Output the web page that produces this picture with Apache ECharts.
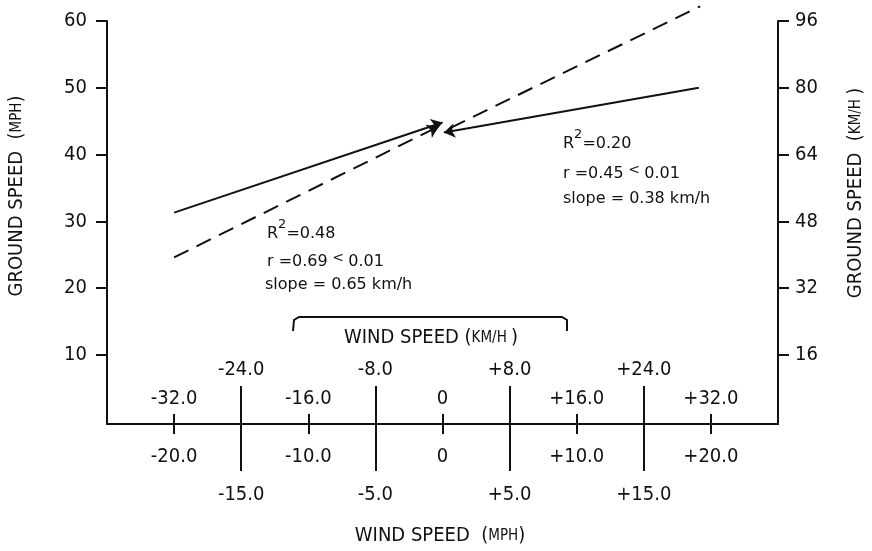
<!DOCTYPE html>
<html><head><meta charset="utf-8">
<script src="https://cdn.jsdelivr.net/npm/echarts@6/dist/echarts.min.js"></script>
<style>html,body{margin:0;padding:0;background:#fff}#c{width:872px;height:551px}</style>
</head><body><div id="c"></div>
<script>
// --- data ---
const mphMajor = [-20, -10, 0, 10, 20];
const mphMinor = [-15, -5, 5, 15];
const mphMajorLabels = ['-20.0', '-10.0', '0', '+10.0', '+20.0'];
const mphMinorLabels = ['-15.0', '-5.0', '+5.0', '+15.0'];
const kmhMajorLabels = ['-32.0', '-16.0', '0', '+16.0', '+32.0'];
const kmhMinorLabels = ['-24.0', '-8.0', '+8.0', '+24.0'];
const leftTicks = [10, 20, 30, 40, 50, 60];
const rightTicks = [16, 32, 48, 64, 80, 96];
const leftSolid = [[-20, 31.3], [0, 44.8]];
const leftDashed = [[-20, 24.6], [-0.3, 44.2]];
const rightSolid = [[19.1, 50.0], [0.1, 43.3]];
const rightDashed = [[0.6, 44.0], [19.2, 62.2]];

function hasFont(f) {
  const c = document.createElement('canvas').getContext('2d');
  c.font = '40px monospace';
  const a = c.measureText('WIND SPEED -32.0').width;
  c.font = "40px '" + f + "', monospace";
  return Math.abs(c.measureText('WIND SPEED -32.0').width - a) > 0.5;
}
const COND = hasFont('DejaVu Sans Condensed');
const FONT = COND ? "'DejaVu Sans Condensed', 'DejaVu Sans', sans-serif" : "'DejaVu Sans', sans-serif";
const FS = COND ? 20 : 19;
const FS_SMALL = COND ? 15 : 14;
const AFONT = "'DejaVu Sans', sans-serif";
const INK = '#111';

function xAx(values, labels, inside, margin, tickLen, showLine) {
  return {
    type: 'value', min: -25, max: 25, position: 'bottom',
    axisLine: { show: showLine, onZero: false, lineStyle: { color: INK, width: 2 } },
    axisTick: { show: true, inside: inside, length: tickLen, customValues: values,
      lineStyle: { color: INK, width: 2 } },
    axisLabel: { show: true, inside: inside, margin: margin, customValues: values,
      color: INK, fontFamily: FONT, fontSize: FS,
      formatter: v => { const i = values.indexOf(v); return i >= 0 ? labels[i] : ''; } },
    splitLine: { show: false }
  };
}
function yAx(min, max, values, pos) {
  return {
    type: 'value', min: min, max: max, position: pos,
    axisLine: { show: true, onZero: false, lineStyle: { color: INK, width: 2 } },
    axisTick: { show: true, inside: false, length: 11, customValues: values,
      lineStyle: { color: INK, width: 2 } },
    axisLabel: { show: true, margin: pos === 'left' ? 20 : 17, customValues: values,
      color: INK, fontFamily: FONT, fontSize: FS },
    splitLine: { show: false }
  };
}
function seg(coords, dashed, arrow) {
  return {
    type: 'lines', coordinateSystem: 'cartesian2d', xAxisIndex: 0, yAxisIndex: 0,
    clip: false, silent: true,
    symbol: arrow ? ['none', 'arrow'] : ['none', 'none'], symbolSize: [0, 11],
    lineStyle: { color: INK, width: 2, opacity: 1, curveness: 0, type: dashed ? [16, 9] : 'solid' },
    data: [{ coords: coords }]
  };
}
const rich = { a: { fontFamily: FONT, fontSize: FS, color: INK }, b: { fontFamily: FONT, fontSize: FS_SMALL, color: INK } };
function title(x, y, rot, text) {
  return { type: 'text', x: x, y: y, rotation: rot,
    style: { text: text, rich: rich, align: 'center', verticalAlign: 'middle', fill: INK } };
}
const annRich = {
  t: { fontFamily: AFONT, fontSize: 16, color: INK, lineHeight: 24, verticalAlign: 'bottom' },
  p: { fontFamily: AFONT, fontSize: 13, color: INK, lineHeight: 24, verticalAlign: 'top' },
  s: { fontFamily: AFONT, fontSize: 14, color: INK, lineHeight: 24, verticalAlign: 'middle' }
};
function note(x, y, text) {
  return { type: 'text', x: x, y: y,
    style: { text: text, rich: annRich, align: 'left', verticalAlign: 'middle', fill: INK } };
}

const chart = echarts.init(document.getElementById('c'), null, { renderer: 'canvas' });
chart.setOption({
  backgroundColor: '#fff',
  animation: false,
  grid: { left: 107, right: 94, top: 21, bottom: 127, containLabel: false, outerBoundsMode: 'none' },
  xAxis: [
    xAx(mphMajor, mphMajorLabels, false, 23, 10, true),
    xAx(mphMinor, mphMinorLabels, false, 61, 47, false),
    xAx(mphMajor, kmhMajorLabels, true, 15, 10, false),
    xAx(mphMinor, kmhMinorLabels, true, 44, 38, false)
  ],
  yAxis: [
    yAx(-0.35, 60, leftTicks, 'left'),
    yAx(-0.56, 96, rightTicks, 'right')
  ],
  series: [
    seg(leftSolid, false, true),
    seg(leftDashed, true, true),
    seg(rightSolid, false, true),
    seg(rightDashed, true, false)
  ],
  graphic: [
    title(17, 196, Math.PI / 2, '{a|GROUND SPEED  (}{b|MPH}{a|)}'),
    title(856, 193, Math.PI / 2, '{a|GROUND SPEED  (}{b|KM/H }{a|)}'),
    title(440, 536, 0, '{a|WIND SPEED  (}{b|MPH}{a|)}'),
    title(431, 338, 0, '{a|WIND SPEED (}{b|KM/H }{a|)}'),
    { type: 'polyline', shape: { points: [[293, 331], [294, 320], [299, 317], [562, 317], [567, 320], [567, 331]] },
      style: { stroke: INK, lineWidth: 2, fill: null } },
    note(267, 230, '{t|R}{p|2}{t|=0.48}'),
    note(267, 258, '{t|r =0.69}{s| < }{t|0.01}'),
    note(265, 281, '{t|slope = 0.65 km/h}'),
    note(563, 140, '{t|R}{p|2}{t|=0.20}'),
    note(563, 170, '{t|r =0.45}{s| < }{t|0.01}'),
    note(563, 195, '{t|slope = 0.38 km/h}')
  ]
});
</script>
</body></html>
